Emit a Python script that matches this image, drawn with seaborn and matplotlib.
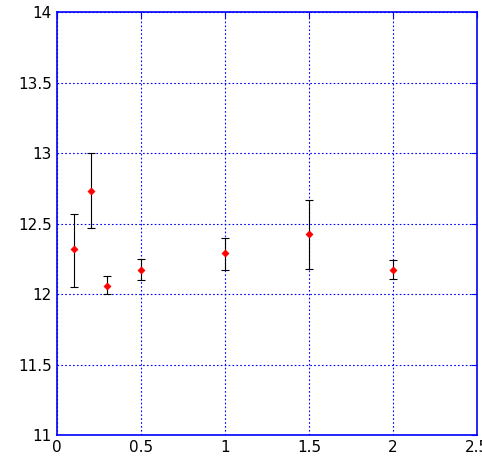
import matplotlib
matplotlib.use("Agg")
import matplotlib.pyplot as plt
import seaborn as sns
import numpy as np
import pandas as pd

x_vals = [0.1, 0.2, 0.3, 0.5, 1.0, 1.5, 2.0]
y_vals = [12.32, 12.73, 12.06, 12.17, 12.29, 12.43, 12.17]
y_low = [12.05, 12.47, 12.00, 12.10, 12.17, 12.18, 12.11]
y_high = [12.57, 13.00, 12.13, 12.25, 12.40, 12.67, 12.24]
x_ticks = [0, 0.5, 1, 1.5, 2, 2.5]
x_labels = ["0", "0.5", "1", "1.5", "2", "2.5"]
y_ticks = [11, 11.5, 12, 12.5, 13, 13.5, 14]
y_labels = ["11", "11.5", "12", "12.5", "13", "13.5", "14"]

sns.set_style("white")
plt.rcParams['font.family'] = ['DejaVu Sans']
fig = plt.figure(figsize=(4.82, 4.66), dpi=100)
ax = fig.add_axes([0.118, 0.066, 0.872, 0.908])
df = pd.DataFrame({"x": x_vals, "y": y_vals})
yv = np.array(y_vals)
err = np.vstack([yv - np.array(y_low), np.array(y_high) - yv])
ax.errorbar(x_vals, y_vals, yerr=err, fmt="none", ecolor="black", elinewidth=0.8, capsize=3, capthick=0.8, zorder=2)
sns.scatterplot(data=df, x="x", y="y", ax=ax, color="red", marker="D", s=14, edgecolor="red", zorder=3)
ax.set_xlim(0, 2.5)
ax.set_ylim(11, 14)
ax.set_xticks(x_ticks)
ax.set_xticklabels(x_labels)
ax.set_yticks(y_ticks)
ax.set_yticklabels(y_labels)
ax.set_xlabel("")
ax.set_ylabel("")
ax.grid(True, color="blue", linestyle=(0, (1.5, 2)), linewidth=0.8)
for s in ax.spines.values():
    s.set_color("blue")
    s.set_linewidth(1.2)
ax.tick_params(direction="in", length=4, colors="black", labelsize=11, top=True, right=True)
ax.tick_params(axis="both", which="both", color="blue")
fig.savefig("out.png", dpi=100)
